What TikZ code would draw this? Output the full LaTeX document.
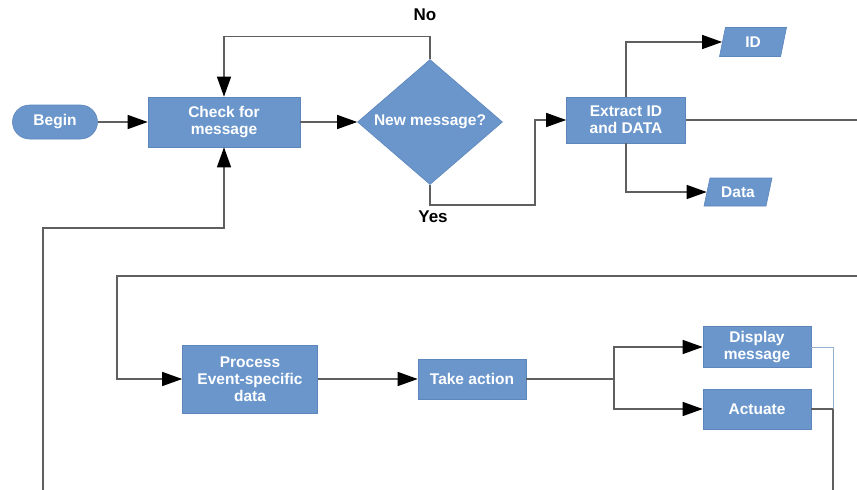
\documentclass[tikz,border=0pt]{standalone}
\usepackage{fontspec}
\setmainfont{Liberation Sans}
\usetikzlibrary{shapes.geometric,arrows.meta}
\definecolor{boxblue}{RGB}{106,150,204}
\definecolor{boxedge}{RGB}{92,134,188}
\definecolor{linegray}{RGB}{95,95,95}
\definecolor{lightline}{RGB}{150,175,205}
\tikzset{
  procbox/.style={fill=boxblue, draw=boxedge, line width=0.6pt, text=white, align=center,
    font=\fontsize{15.5}{17}\selectfont\bfseries, inner sep=2pt},
  termbox/.style={procbox, rounded corners=17pt},
  decbox/.style={procbox, diamond, aspect=1.16, inner sep=0pt},
  iobox/.style={procbox, trapezium, trapezium left angle=65, trapezium right angle=115,
    trapezium stretches body=true, inner sep=1pt},
  conn/.style={draw=linegray, line width=1.3pt},
  arr/.style={conn, -{Triangle[length=20pt,width=14pt,color=black]}},
  lbl/.style={font=\fontsize{17}{19}\selectfont\bfseries, text=black}
}
\begin{document}
\begin{tikzpicture}[x=1pt,y=-1pt]
\useasboundingbox[fill=white] (0,0) rectangle (857,490);
% top row
\node[termbox, minimum width=85pt, minimum height=34pt] (begin) at (55,122) {Begin};
\node[procbox, minimum width=152pt, minimum height=50pt] (check) at (224,122) {Check for\\message};
\node[decbox, minimum width=145pt, minimum height=125pt] (dia) at (430,122) {New message?};
\node[procbox, minimum width=119pt, minimum height=46pt] (ext) at (626,120) {Extract ID\\and DATA};
\node[iobox, minimum width=67pt, minimum height=29pt] (id) at (753,42) {ID};
\node[iobox, minimum width=68pt, minimum height=28pt] (data) at (738,192) {Data};
\node[lbl] (no) at (425,15) {No};
\node[lbl] (yes) at (433,217) {Yes};
% bottom row
\node[procbox, minimum width=135pt, minimum height=68pt] (proc) at (250,379) {Process\\Event-specific\\data};
\node[procbox, minimum width=108pt, minimum height=40pt] (take) at (472,379) {Take action};
\node[procbox, minimum width=108pt, minimum height=41pt] (disp) at (757,347) {Display\\message};
\node[procbox, minimum width=108pt, minimum height=40pt] (act) at (757,409) {Actuate};
% coordinates
\coordinate (yc) at (535,205);
\coordinate (er) at (857,120);
\coordinate (bl) at (43,490);
\coordinate (lc) at (43,228);
\coordinate (tr) at (857,276);
\coordinate (tl) at (117,276);
\coordinate (sp) at (614,379);
\coordinate (rc) at (833,409);
\coordinate (rb) at (833,490);
% connectors
\draw[arr] (begin) -- (check);
\draw[arr] (check) -- (dia);
\draw[arr] (dia.north) -- ++(0,-23) -| (check.north);
\draw[arr] (dia.south) |- (yc) |- (ext.west);
\draw[arr] (ext.north) |- (id.west);
\draw[arr] (ext.south) |- (data.west);
\draw[conn] (ext.east) -- (er);
\draw[arr] (bl) -- (lc) -| (check.south);
\draw[arr] (tr) -- (tl) |- (proc.west);
\draw[arr] (proc) -- (take);
\draw[conn] (take) -- (sp);
\draw[arr] (sp) |- (disp.west);
\draw[arr] (sp) |- (act.west);
\draw[conn] (act.east) -- (rc) -- (rb);
\draw[draw=lightline, line width=0.9pt] (disp.east) -| (rc);
\end{tikzpicture}
\end{document}
